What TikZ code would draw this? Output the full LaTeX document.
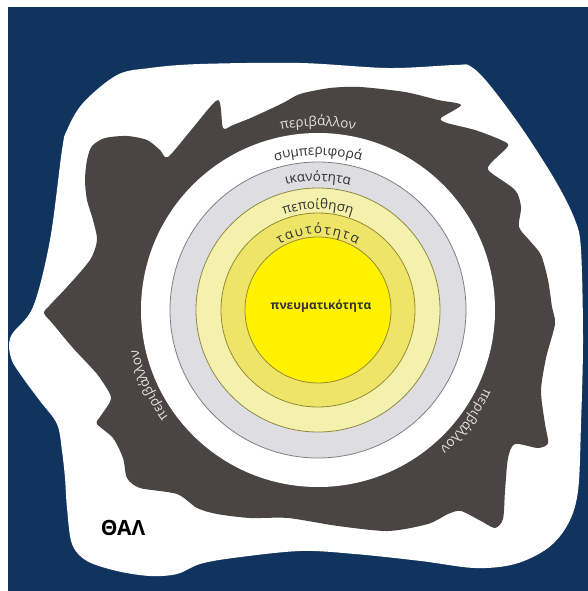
\documentclass[tikz,border=0pt]{standalone}
\usepackage{fontspec}
\setmainfont{Open Sans}
\usetikzlibrary{decorations.text}
\definecolor{NightBlue}{RGB}{16,52,94}
\definecolor{SoilGrey}{RGB}{74,68,66}
\definecolor{RingGrey}{RGB}{221,221,226}
\definecolor{PaleYellow}{RGB}{244,241,172}
\definecolor{MidYellow}{RGB}{238,228,104}
\definecolor{CoreYellow}{RGB}{255,241,0}
\definecolor{RingLine}{RGB}{128,128,130}
\definecolor{OliveLine}{RGB}{150,138,52}
\definecolor{LabelDark}{RGB}{50,50,50}
\definecolor{LabelLight}{RGB}{228,228,228}
\newcommand\labelfont{\fontsize{13.5}{15}\selectfont}
\newcommand\gap{{\kern1.8pt}}
\tikzset{
  ring default/.style={
    circle,
    inner sep=0pt,
    line width=0.8pt,
  },
  ring 0/.style={
    ring default,
    fill=white,
  },
  ring 1/.style={
    ring default,
    fill=RingGrey,
    draw=RingLine,
  },
  ring 2/.style={
    ring default,
    fill=PaleYellow,
    draw=OliveLine!80!RingLine,
  },
  ring 3/.style={
    ring default,
    fill=MidYellow,
    draw=OliveLine,
  },
  ring 4/.style={
    ring default,
    fill=CoreYellow,
    draw=OliveLine,
  },
  env label/.style={
    decorate,
    decoration={text along path, text align=center, text color=LabelLight,
      text={|\labelfont|#1}},
  },
  level label/.style={
    decorate,
    decoration={text along path, text align=center, text color=LabelDark,
      text={|\labelfont|#1}},
  },
}

\begin{document}
\begin{tikzpicture}[x=1pt, y=-1pt]
  \useasboundingbox[fill=white] (0,0) rectangle (588,591);
  \fill[NightBlue] (8,7) rectangle (588,591);
  % paper
  \fill[white] plot[smooth cycle, tension=0.55] coordinates {
    (117,75) (150,68) (200,64) (300,63) (388,68) (455,65) (470,66)
    (488,83) (521,127) (555,180) (575,220) (581,250) (583,340) (581,424)
    (578,491) (568,524) (548,548) (515,564) (475,568) (421,561) (355,554)
    (300,551) (233,558) (200,564) (177,574) (150,576) (117,571) (87,561)
    (72,544) (67,508) (65,478) (62,451) (57,424) (40,401) (23,378)
    (11,358) (11,336) (33,307) (50,240) (62,150) (67,130) (83,103)};
  % environment
  \fill[SoilGrey] plot[smooth cycle, tension=0.45] coordinates {
    (85,180) (87,160) (92,146) (105,138) (127,136) (147,140) (160,150)
    (168,157) (192,129) (218,100) (223,128) (233,125) (253,117) (283,103)
    (300,94) (330,88) (360,87) (405,92) (438,100) (461,105) (441,118)
    (447,123) (475,130) (501,140) (508,146) (491,163) (489,171) (515,190)
    (521,207) (519,227) (530,241) (541,255) (548,280) (552,307) (555,324)
    (546,358) (541,391) (545,424) (548,443) (538,448) (515,444) (508,458)
    (505,491) (503,519) (495,528) (481,521) (461,511) (448,514) (428,524)
    (388,531) (338,526) (288,518) (250,518) (217,514) (197,508) (177,494)
    (140,488) (127,478) (123,458) (113,438) (97,424) (100,417) (110,402)
    (110,394) (97,374) (73,348) (53,324) (44,313) (50,305) (67,287)
    (90,260) (97,240) (93,220) (87,200)};

  \coordinate (centre) at (318,310);
  \node[ring 0, minimum size=354pt] (behaviour) at (centre) {};
  \node[ring 1, minimum size=296pt] (capability) at (centre) {};
  \node[ring 2, minimum size=244pt] (belief) at (centre) {};
  \node[ring 3, minimum size=194pt] (identity) at (centre) {};
  \node[ring 4, minimum size=146pt] (spirit) at (centre) {};

  \path[env label={περιβάλλον}] (centre) ++(-120:184)
    arc[start angle=-120, end angle=-60, radius=184];
  \path[env label={περιβάλλον}] (centre) ++(-234:184)
    arc[start angle=-234, end angle=-174, radius=184];
  \path[env label={περιβάλλον}] (centre) ++(7:184)
    arc[start angle=7, end angle=67, radius=184];
  \path[level label={συμπεριφορά}] (centre) ++(-125:155)
    arc[start angle=-125, end angle=-55, radius=155];
  \path[level label={ικανότητα}] (centre) ++(-130:129)
    arc[start angle=-130, end angle=-50, radius=129];
  \path[level label={πεποίθηση}] (centre) ++(-140:101)
    arc[start angle=-140, end angle=-40, radius=101];
  \path[level label={τ\gap α\gap υ\gap τ\gap ό\gap τ\gap η\gap τ\gap α}]
    (centre) ++(-165:76) arc[start angle=-165, end angle=-15, radius=76];

  \node[text=LabelDark, font=\bfseries\fontsize{12}{14}\selectfont]
    (spiritlabel) at (321,306) {πνευματικότητα};
  \node[text=black, font=\bfseries\fontsize{21}{24}\selectfont]
    (sign) at (123,528) {ΘΑΛ};
\end{tikzpicture}
\end{document}
